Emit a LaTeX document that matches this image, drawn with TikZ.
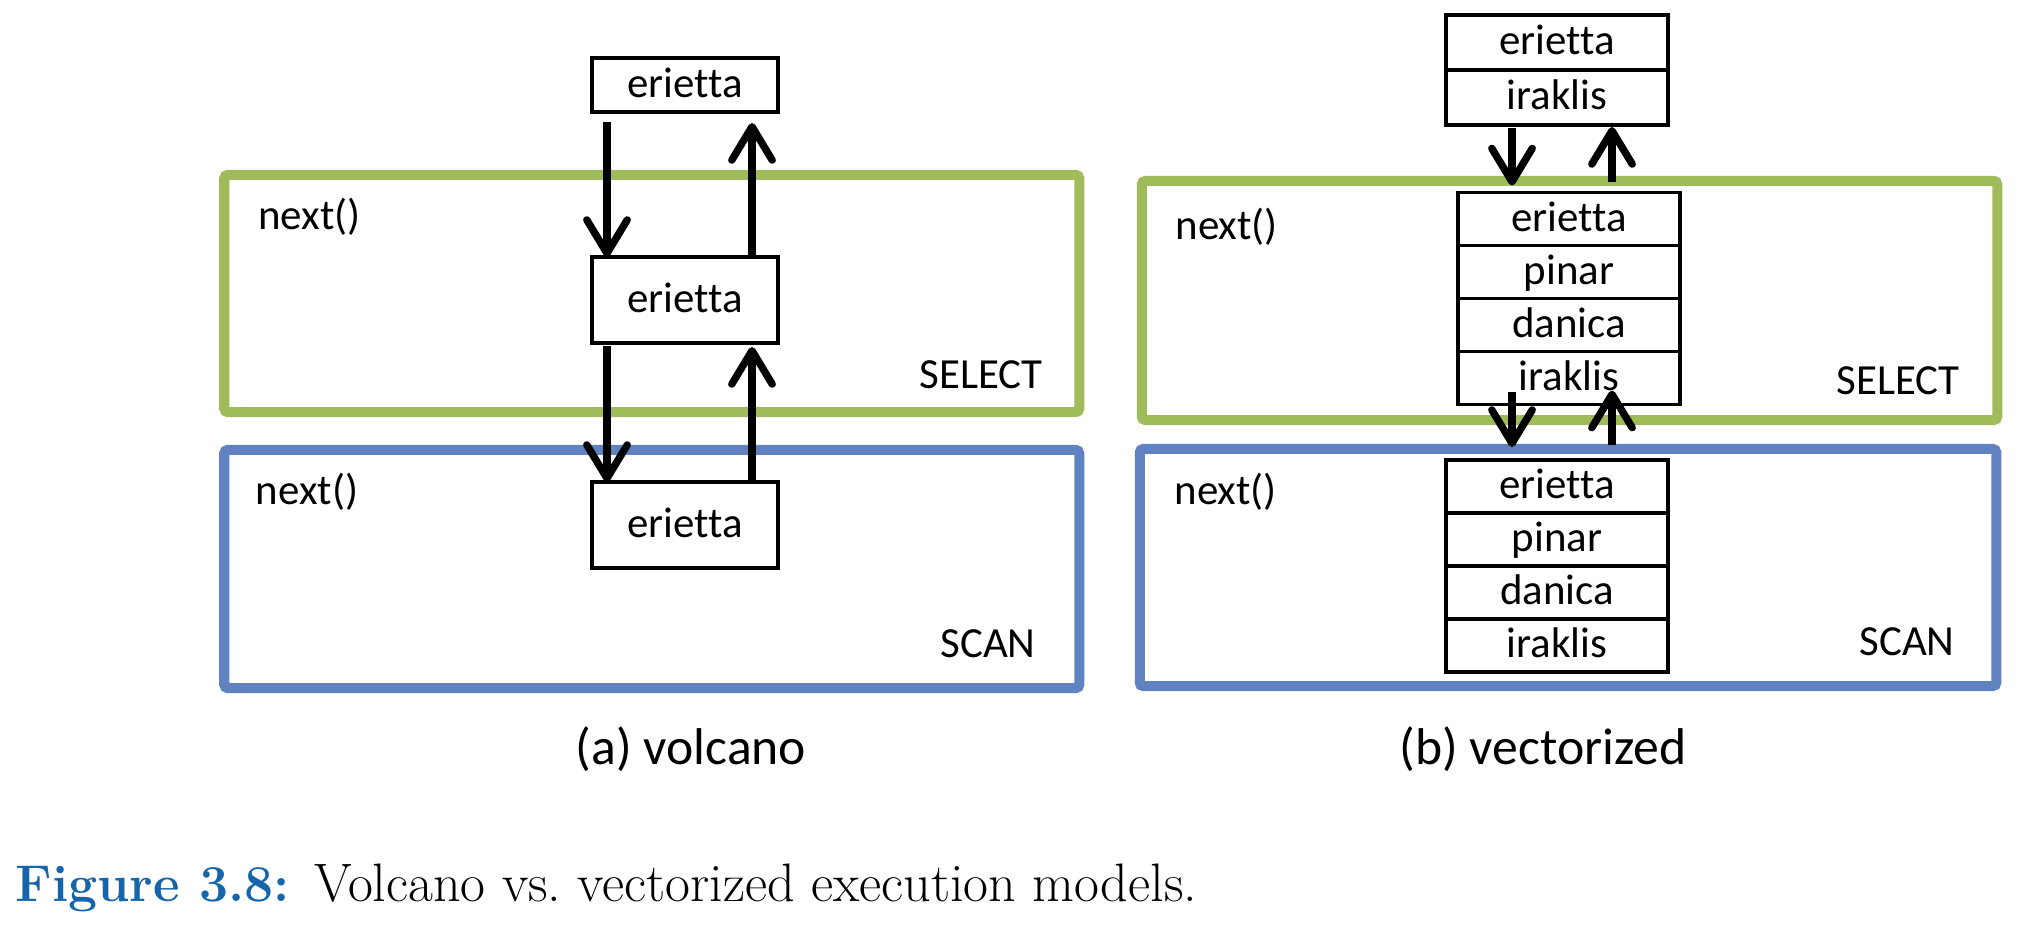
\documentclass[tikz,border=0pt]{standalone}
\usepackage{fontspec}
\usepackage{tikz}
\usetikzlibrary{calc}
\usetikzlibrary{positioning}
\usetikzlibrary{arrows.meta}
\newfontfamily\carlito[Ligatures=NoCommon]{Carlito}
\definecolor{selgreen}{RGB}{160,187,90}
\definecolor{scanblue}{RGB}{97,130,193}
\definecolor{capblue}{RGB}{22,100,170}
\newcommand{\boxfont}{\carlito\fontsize{12.2}{14.6}\selectfont}
\newcommand{\subfont}{\carlito\fontsize{14.7}{17.6}\selectfont}

\begin{document}
\begin{tikzpicture}[x=0.01cm, y=-0.01cm,
tuple/.style = {rectangle, draw, fill=white, line width=1.05pt, inner sep=0pt, outer sep=0pt, minimum width=1.86cm, text height=9pt, text depth=2pt, font=\boxfont},
vrow/.style = {tuple, minimum width=2.22cm, minimum height=0.53cm},
opframe/.style = {rectangle, line width=2.85pt, rounded corners=1pt, inner sep=0pt, outer sep=0pt},
optext/.style = {inner sep=0pt, font=\boxfont},
flow/.style = {line width=2.1pt, -{Straight Barb[length=9.5pt, width=11.5pt, round]}}
]
\useasboundingbox (0,0) rectangle (2019,924);

\node (selA)[opframe, draw=selgreen, minimum width=8.545cm, minimum height=2.37cm] at (651.75,293.5) {};
\node (scanA)[opframe, draw=scanblue, minimum width=8.545cm, minimum height=2.38cm] at (651.75,569) {};
\node (selB)[opframe, draw=selgreen, minimum width=8.55cm, minimum height=2.39cm] at (1569.5,300.5) {};
\node (scanB)[opframe, draw=scanblue, minimum width=8.56cm, minimum height=2.37cm] at (1568,567.5) {};

\node (nextselA)[optext, anchor=base west] at ($(selA.north west)+(33.5,55)$) {next()};
\node (nextscanA)[optext, anchor=base west] at ($(scanA.north west)+(31,55)$) {next()};
\node (opselA)[optext, anchor=base east] at ($(selA.south east)+(-36,-24)$) {SELECT};
\node (opscanA)[optext, anchor=base east] at ($(scanA.south east)+(-43,-31)$) {SCAN};
\node (nextselB)[optext, anchor=base west] at ($(selB.north west)+(33,59)$) {next()};
\node (nextscanB)[optext, anchor=base west] at ($(scanB.north west)+(34,56)$) {next()};
\node (opselB)[optext, anchor=base east] at ($(selB.south east)+(-37,-26)$) {SELECT};
\node (opscanB)[optext, anchor=base east] at ($(scanB.south east)+(-41,-31)$) {SCAN};

% volcano: one tuple per call
\node (topval)[tuple, minimum height=0.54cm] at (685,85) {erietta};
\node (selval)[tuple, minimum height=0.86cm] at (685,300) {erietta};
\node (scanval)[tuple, minimum height=0.86cm] at (685,525) {erietta};

% vectorized: a batch per call
\node (vtopa)[vrow, minimum height=0.55cm] at (1557,42.5) {erietta};
\node (vtopb)[vrow, minimum height=0.55cm, below=0pt of vtopa] {iraklis};

\node (vsela)[vrow] at (1569,219) {erietta};
\node (vselb)[vrow, below=0pt of vsela] {pinar};
\node (vselc)[vrow, below=0pt of vselb] {danica};
\node (vseld)[vrow, below=0pt of vselc] {iraklis};

\node (vscana)[vrow] at (1557,486.5) {erietta};
\node (vscanb)[vrow, below=0pt of vscana] {pinar};
\node (vscanc)[vrow, below=0pt of vscanb] {danica};
\node (vscand)[vrow, below=0pt of vscanc] {iraklis};

\draw[flow] ($(topval.south)+(-78,10)$) -- ($(selval.north)+(-78,0)$);
\draw[flow] ($(selval.north)+(67,0)$) -- ($(topval.south)+(67,11)$);
\draw[flow] ($(selval.south)+(-78,3)$) -- ($(scanval.north)+(-78,0)$);
\draw[flow] ($(scanval.north)+(67,0)$) -- ($(selval.south)+(67,4)$);

\draw[flow] ($(vtopb.south)+(-45,3)$) -- ($(vsela.north)+(-57,-7)$);
\draw[flow] ($(vsela.north)+(43,-10)$) -- ($(vtopb.south)+(55,2)$);
\draw[flow] ($(vseld.south)+(-57,-13)$) -- ($(vscana.north)+(-45,-13)$);
\draw[flow] ($(vscana.north)+(55,-15)$) -- ($(vseld.south)+(43,-14)$);

\node (capA)[inner sep=0pt, font=\subfont, anchor=base] at (691,764) {(a) volcano};
\node (capB)[inner sep=0pt, font=\subfont, anchor=base] at (1543,764) {(b) vectorized};

\node (caption)[inner sep=0pt, anchor=base west, font=\fontsize{15.4}{18}\selectfont] at (15,901) {\textcolor{capblue}{\fontsize{14.7}{17}\selectfont\bfseries Figure 3.8:}\hspace{7pt}Volcano vs.\ vectorized execution models.};

\end{tikzpicture}
\end{document}
